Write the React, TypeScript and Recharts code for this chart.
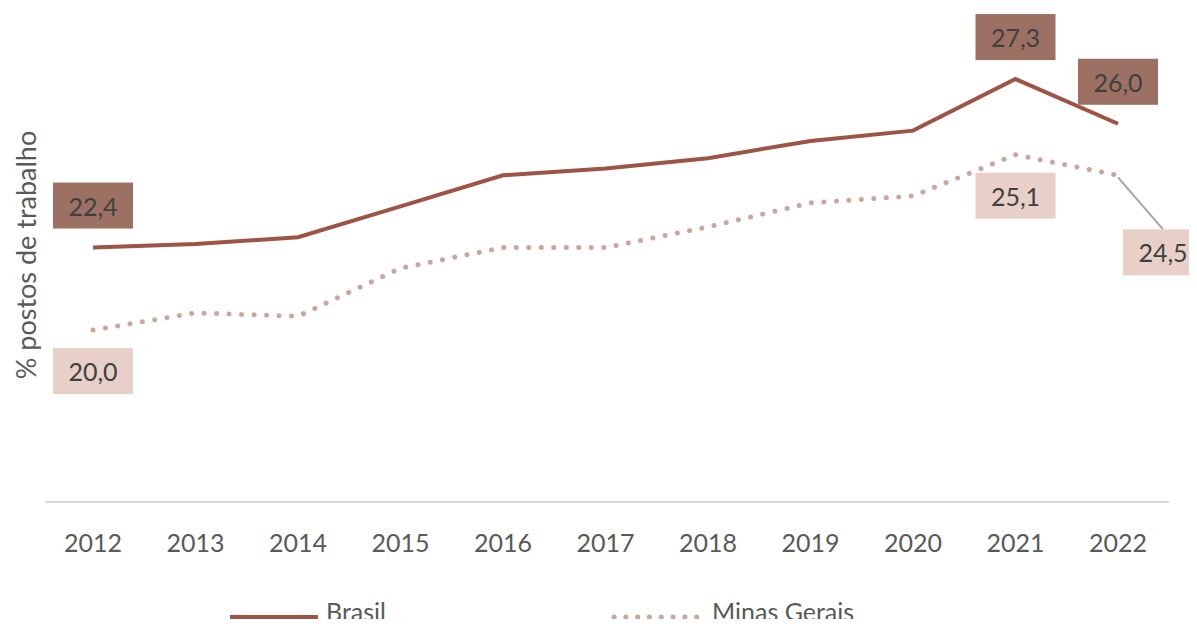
import { LineChart, Line, XAxis, YAxis, LabelList } from "recharts";

const years = ["2012", "2013", "2014", "2015", "2016", "2017", "2018", "2019", "2020", "2021", "2022"];
const brasil = [22.4, 22.5, 22.7, 23.6, 24.5, 24.7, 25.0, 25.5, 25.8, 27.3, 26.0];
const minasGerais = [20.0, 20.5, 20.4, 21.8, 22.4, 22.4, 23.0, 23.7, 23.9, 25.1, 24.5];
const labeledIdx = [0, 9, 10];

const data = years.map((y, i) => ({ year: y, brasil: brasil[i], mg: minasGerais[i] }));

const FONT = "Lato, 'Open Sans', sans-serif";
const BR_LINE = "#9E5444";
const BR_BOX = "#9C7062";
const MG_DOT = "#C9A79D";
const MG_BOX = "#E8D0C9";
const TEXT = "#404040";

const fmt = (v: number) => v.toFixed(1).replace(".", ",");

function Box({ cx, cy, fill, value }: { cx: number; cy: number; fill: string; value: number }) {
  return (
    <g>
      <rect x={cx - 40} y={cy - 23} width={80} height={46} fill={fill} />
      <text x={cx} y={cy} textAnchor="middle" dominantBaseline="central"
            fill={TEXT} fontSize={25} fontFamily={FONT}>{fmt(value)}</text>
    </g>
  );
}

const brasilLabel = (props: any) => {
  const { x, y, value, index } = props;
  if (!labeledIdx.includes(index)) return null;
  return <Box cx={x} cy={y - 42} fill={BR_BOX} value={value} />;
};

const mgLabel = (props: any) => {
  const { x, y, value, index } = props;
  if (!labeledIdx.includes(index)) return null;
  if (index === years.length - 1) {
    return (
      <g>
        <line x1={x} y1={y + 2} x2={x + 45} y2={y + 54} stroke="#A6A6A6" strokeWidth={2} />
        <Box cx={x + 45} cy={y + 77} fill={MG_BOX} value={value} />
      </g>
    );
  }
  return <Box cx={x} cy={y + 41} fill={MG_BOX} value={value} />;
};

const yLabel = () => (
  <text x={25} y={255} transform="rotate(-90 25 255)" textAnchor="middle" dominantBaseline="central"
        fill="#595959" fontSize={27} fontFamily={FONT}>% postos de trabalho</text>
);

const legendText = { position: "absolute" as const, top: 0, fontFamily: FONT, fontSize: 25,
  lineHeight: "26px", color: "#595959", whiteSpace: "nowrap" as const };

export default function App() {
  return (
    <div style={{ position: "relative", width: 1197, height: 627, margin: -8, overflow: "hidden", background: "#fff" }}>
      <LineChart width={1197} height={627} data={data}
                 margin={{ top: 55, right: 28, left: 0, bottom: 95 }}>
        <XAxis dataKey="year" height={30} tickLine={false} tickSize={0} tickMargin={32}
               axisLine={{ stroke: "#D9D9D9", strokeWidth: 2 }}
               tick={{ fill: "#595959", fontSize: 25, fontFamily: FONT }}
               padding={{ left: 48, right: 51 }} interval={0} />
        <YAxis width={45} domain={[15, 28]} tick={false} axisLine={false} tickLine={false}
               label={yLabel} />
        <Line dataKey="brasil" stroke={BR_LINE} strokeWidth={4} dot={false} isAnimationActive={false}>
          <LabelList dataKey="brasil" content={brasilLabel} />
        </Line>
        <Line dataKey="mg" stroke={MG_DOT} strokeWidth={5} strokeLinecap="round" strokeDasharray="0.1 12.4"
              dot={false} isAnimationActive={false}>
          <LabelList dataKey="mg" content={mgLabel} />
        </Line>
      </LineChart>
      <div style={{ position: "absolute", top: 598, left: 0, width: 1197, height: 27 }}>
        <svg style={{ position: "absolute", left: 230, top: 16 }} width={88} height={6}>
          <line x1={0} y1={3} x2={88} y2={3} stroke={BR_LINE} strokeWidth={4} />
        </svg>
        <span style={{ ...legendText, left: 326 }}>Brasil</span>
        <svg style={{ position: "absolute", left: 610, top: 16 }} width={92} height={6}>
          <line x1={4} y1={3} x2={89} y2={3} stroke={MG_DOT} strokeWidth={5}
                strokeLinecap="round" strokeDasharray="0.1 11.7" />
        </svg>
        <span style={{ ...legendText, left: 712 }}>Minas Gerais</span>
      </div>
    </div>
  );
}
